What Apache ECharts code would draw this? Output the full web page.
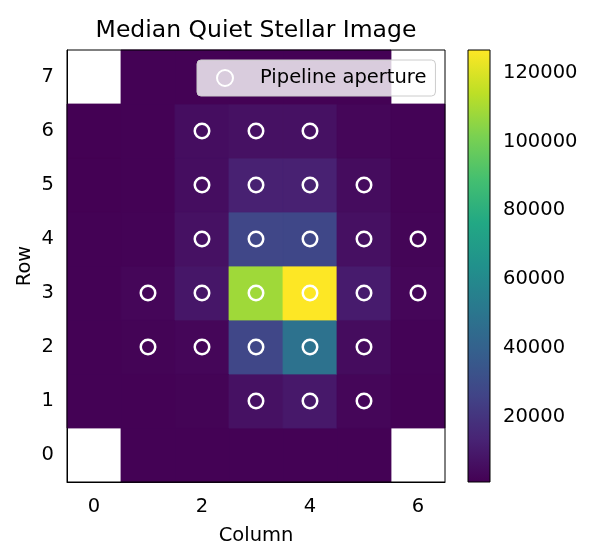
<!DOCTYPE html>
<html>
<head>
<meta charset="utf-8">
<script src="https://cdn.jsdelivr.net/npm/echarts@6/dist/echarts.min.js"></script>
<style>html,body{margin:0;padding:0;background:#fff}#c{width:603px;height:547px}</style>
</head>
<body>
<div id="c"></div>
<script>
// ---- data ----
const columns = ['0', '1', '2', '3', '4', '5', '6'];
const rows = ['0', '1', '2', '3', '4', '5', '6', '7'];
// flux per row (row 0 .. row 7), columns 0..6; null = missing pixel
const row0 = [null, 1500, 1500, 1600, 1600, 1500, null];
const row1 = [1300, 1400, 2000, 6700, 9500, 3000, 1500];
const row2 = [1300, 2000, 3000, 27500, 48200, 5000, 1800];
const row3 = [1400, 3000, 8600, 108400, 126600, 10500, 3000];
const row4 = [1300, 1700, 6700, 27500, 27800, 6500, 2400];
const row5 = [1200, 1500, 5500, 12400, 12400, 5000, 2000];
const row6 = [1200, 1400, 5500, 6800, 6800, 3000, 1800];
const row7 = [null, 1400, 1500, 1500, 1500, 1500, null];
const fluxRows = [row0, row1, row2, row3, row4, row5, row6, row7];
// pipeline aperture pixels
const apertureCols = [2, 3, 4, 2, 3, 4, 5, 2, 3, 4, 5, 6, 1, 2, 3, 4, 5, 6, 1, 2, 3, 4, 5, 3, 4, 5];
const apertureRows = [6, 6, 6, 5, 5, 5, 5, 4, 4, 4, 4, 4, 3, 3, 3, 3, 3, 3, 2, 2, 2, 2, 2, 1, 1, 1];
const colorMin = 1100, colorMax = 126600;
const colorbarTicks = [20000, 40000, 60000, 80000, 100000, 120000];

const viridis = ['#440154', '#482475', '#414487', '#355f8d', '#2a788e', '#21918c', '#22a884', '#44bf70', '#7ad151', '#bddf26', '#fde725'];

const heatData = [];
fluxRows.forEach((r, y) => r.forEach((v, x) => { if (v != null) heatData.push([x, y, v]); }));
const apData = apertureCols.map((c, i) => [c, apertureRows[i]]);

const FONT = 'DejaVu Sans';
const FS = 19.5;
const chart = echarts.init(document.getElementById('c'), null, { renderer: 'canvas' });
chart.setOption({
  animation: false,
  backgroundColor: '#fff',
  textStyle: { fontFamily: FONT },
  title: {
    text: 'Median Quiet Stellar Image',
    left: 256, top: 19, padding: 0, textAlign: 'center',
    textStyle: { fontFamily: FONT, fontSize: 23.5, fontWeight: 'normal', color: '#000' }
  },
  legend: {
    data: ['Pipeline aperture'],
    left: 197, top: 60,
    padding: [8, 9, 8, 19],
    itemWidth: 16, itemHeight: 16,
    backgroundColor: 'rgba(255,255,255,0.8)',
    borderColor: '#cccccc', borderWidth: 1, borderRadius: 4,
    textStyle: { fontFamily: FONT, fontSize: FS, color: '#000', padding: [0, 0, 0, 22] }
  },
  grid: [
    { left: 67, top: 50, width: 378, height: 432, show: true, z: 10, borderColor: '#000', borderWidth: 1, backgroundColor: 'transparent', outerBoundsMode: 'none', containLabel: false },
    { left: 468, top: 50, width: 22, height: 432, show: true, z: 10, borderColor: '#000', borderWidth: 1, backgroundColor: 'transparent', outerBoundsMode: 'none', containLabel: false }
  ],
  xAxis: [
    {
      type: 'category', data: columns, gridIndex: 0,
      name: 'Column', nameLocation: 'middle', nameGap: 44, nameMoveOverlap: false,
      nameTextStyle: { fontFamily: FONT, fontSize: FS, color: '#000' },
      axisLine: { lineStyle: { color: '#000', width: 1 } },
      axisTick: { alignWithLabel: true, interval: 1, length: 6, lineStyle: { color: '#000' } },
      axisLabel: { interval: 1, margin: 15, fontFamily: FONT, fontSize: FS, color: '#000' },
      splitLine: { show: false }
    },
    { type: 'value', gridIndex: 1, min: 0, max: 1, show: false }
  ],
  yAxis: [
    {
      type: 'category', data: rows, gridIndex: 0,
      name: 'Row', nameLocation: 'middle', nameGap: 32, nameMoveOverlap: false,
      nameTextStyle: { fontFamily: FONT, fontSize: FS, color: '#000' },
      axisLine: { lineStyle: { color: '#000', width: 1 } },
      axisTick: { alignWithLabel: true, length: 6, lineStyle: { color: '#000' } },
      axisLabel: { margin: 13, fontFamily: FONT, fontSize: FS, color: '#000' },
      splitLine: { show: false }
    },
    {
      type: 'value', gridIndex: 1, position: 'right', min: colorMin, max: colorMax,
      axisLine: { show: false },
      axisTick: { show: true, length: 6, customValues: colorbarTicks, lineStyle: { color: '#000' } },
      axisLabel: { customValues: colorbarTicks, margin: 13, fontFamily: FONT, fontSize: FS, color: '#000',
        formatter: function (v) { return String(v); } },
      splitLine: { show: false }
    }
  ],
  visualMap: {
    show: false, type: 'continuous', seriesIndex: 0, dimension: 2,
    min: colorMin, max: colorMax,
    inRange: { color: viridis }
  },
  series: [
    {
      type: 'custom', xAxisIndex: 0, yAxisIndex: 0, data: heatData, silent: true,
      encode: { x: 0, y: 1 },
      renderItem: function (params, api) {
        const c = api.coord([api.value(0), api.value(1)]);
        const s = api.size([1, 1]);
        const col = api.visual('color');
        return {
          type: 'rect',
          shape: { x: c[0] - s[0] / 2, y: c[1] - s[1] / 2, width: s[0], height: s[1] },
          style: { fill: col, stroke: col, lineWidth: 0.8 }
        };
      }
    },
    {
      name: 'Pipeline aperture', type: 'scatter', xAxisIndex: 0, yAxisIndex: 0,
      data: apData, symbol: 'circle', symbolSize: 14.5, z: 5,
      itemStyle: { color: 'rgba(0,0,0,0)', borderColor: '#ffffff', borderWidth: 2.5, opacity: 1 }
    },
    {
      type: 'custom', xAxisIndex: 1, yAxisIndex: 1, data: [[0, colorMin, colorMax]], silent: true,
      renderItem: function (params, api) {
        const p0 = api.coord([0, api.value(1)]);
        const p1 = api.coord([1, api.value(2)]);
        const stops = viridis.map((c, i) => ({ offset: i / (viridis.length - 1), color: c }));
        return {
          type: 'rect',
          shape: { x: p0[0], y: p1[1], width: p1[0] - p0[0], height: p0[1] - p1[1] },
          style: { fill: new echarts.graphic.LinearGradient(0, 1, 0, 0, stops) }
        };
      }
    }
  ]
});
</script>
</body>
</html>
